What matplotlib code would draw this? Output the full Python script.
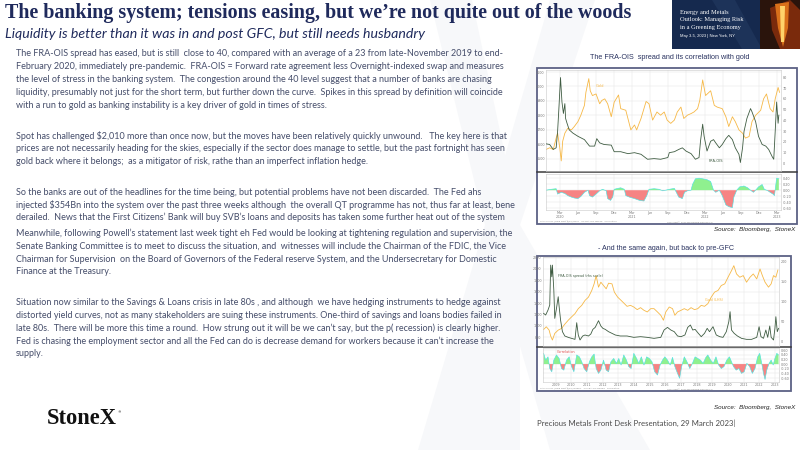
import numpy as np
import matplotlib
matplotlib.use("Agg")
import matplotlib.pyplot as plt
from matplotlib.patches import Rectangle, Polygon

# ---- chart 1: FRA-OIS vs gold, 2020-2023 (decimal years) ----
gold1_t = [2019.98, 2020.03, 2020.08, 2020.12, 2020.14, 2020.17, 2020.19, 2020.21, 2020.24, 2020.28,
           2020.33, 2020.37, 2020.42, 2020.46, 2020.51, 2020.53, 2020.57, 2020.59, 2020.62, 2020.67,
           2020.72, 2020.75, 2020.79, 2020.83, 2020.88, 2020.92, 2020.98, 2021.01, 2021.08, 2021.15,
           2021.20, 2021.23, 2021.29, 2021.36, 2021.40, 2021.45, 2021.51, 2021.56, 2021.61, 2021.65,
           2021.70, 2021.75, 2021.79, 2021.84, 2021.88, 2021.93, 2021.98, 2022.02, 2022.07, 2022.10,
           2022.14, 2022.18, 2022.25, 2022.30, 2022.34, 2022.41, 2022.46, 2022.50, 2022.55, 2022.59,
           2022.64, 2022.69, 2022.73, 2022.78, 2022.82, 2022.87, 2022.94, 2022.98, 2023.02, 2023.07,
           2023.11, 2023.14, 2023.18, 2023.20]
gold1 = [1563, 1575, 1563, 1642, 1676, 1575, 1484, 1620, 1676, 1710,
         1699, 1722, 1756, 1800, 1869, 1959, 2054, 1970, 1937, 1948,
         1880, 1903, 1914, 1880, 1790, 1891, 1941, 1846, 1835, 1699,
         1733, 1699, 1778, 1896, 1880, 1767, 1823, 1801, 1823, 1767,
         1744, 1767, 1823, 1857, 1778, 1801, 1812, 1823, 1846, 1903,
         2045, 1937, 1970, 1869, 1857, 1846, 1790, 1722, 1790, 1756,
         1699, 1676, 1642, 1653, 1756, 1800, 1835, 1914, 1948, 1846,
         1823, 1914, 1993, 1959]

fra1_t = [2019.98, 2020.03, 2020.08, 2020.12, 2020.14, 2020.16, 2020.18, 2020.20, 2020.22, 2020.24,
          2020.25, 2020.27, 2020.30, 2020.35, 2020.42, 2020.51, 2020.58, 2020.65, 2020.68, 2020.72,
          2020.78, 2020.88, 2020.92, 2021.01, 2021.11, 2021.20, 2021.29, 2021.38, 2021.47, 2021.56,
          2021.66, 2021.68, 2021.75, 2021.81, 2021.86, 2021.91, 2021.98, 2022.04, 2022.09, 2022.11,
          2022.14, 2022.16, 2022.20, 2022.25, 2022.29, 2022.32, 2022.37, 2022.41, 2022.46, 2022.50,
          2022.55, 2022.59, 2022.64, 2022.66, 2022.69, 2022.71, 2022.75, 2022.80, 2022.82, 2022.87,
          2022.91, 2022.96, 2023.01, 2023.05, 2023.10, 2023.12, 2023.14, 2023.16, 2023.18, 2023.19]
fra1 = [18.2, 17.6, 13.0, 14.5, 29.7, 53.9, 79.7, 57.0, 46.4, 55.5,
        41.8, 37.3, 31.2, 28.2, 25.2, 22.1, 16.1, 16.1, 23.0, 19.1,
        17.6, 17.0, 10.9, 10.9, 9.1, 10.0, 8.5, 3.9, 4.5, 3.9,
        5.5, 10.0, 10.9, 13.0, 14.5, 11.5, 9.1, 3.9, 5.5, 20.6,
        36.4, 25.2, 11.5, 20.6, 22.1, 19.1, 14.5, 17.6, 23.0, 26.1,
        22.1, 14.5, 8.5, 0.9, 14.5, 29.7, 41.8, 50.9, 47.9, 38.8,
        25.2, 17.6, 16.1, 13.0, 6.1, 3.9, 29.7, 57.0, 37.3, 44.8]

corr1_t = [2019.98, 2020.05, 2020.12, 2020.14, 2020.19, 2020.24, 2020.28, 2020.33, 2020.37, 2020.42,
           2020.46, 2020.51, 2020.56, 2020.58, 2020.62, 2020.67, 2020.72, 2020.76, 2020.81, 2020.83,
           2020.87, 2020.90, 2020.92, 2020.97, 2021.01, 2021.06, 2021.08, 2021.13, 2021.20, 2021.27,
           2021.33, 2021.37, 2021.40, 2021.47, 2021.54, 2021.59, 2021.63, 2021.68, 2021.75, 2021.81,
           2021.86, 2021.89, 2021.93, 2021.98, 2022.00, 2022.04, 2022.09, 2022.14, 2022.20, 2022.25,
           2022.29, 2022.32, 2022.37, 2022.41, 2022.46, 2022.50, 2022.55, 2022.57, 2022.61, 2022.65,
           2022.71, 2022.76, 2022.80, 2022.84, 2022.87, 2022.91, 2022.96, 2022.99, 2023.04, 2023.07,
           2023.11, 2023.13, 2023.16, 2023.19]
corr1 = [0.00, 0.03, 0.05, -0.13, -0.07, -0.11, -0.18, -0.23, -0.26, -0.28,
         -0.21, -0.07, 0.00, -0.18, -0.23, -0.13, -0.02, 0.03, -0.02, -0.28,
         -0.34, -0.23, 0.03, 0.06, 0.08, 0.03, -0.18, -0.23, -0.28, -0.34,
         -0.36, -0.18, 0.03, 0.05, 0.03, -0.02, 0.00, 0.03, 0.06, -0.23,
         -0.28, -0.07, -0.02, 0.00, 0.19, 0.38, 0.40, 0.38, 0.35, 0.29,
         0.00, -0.07, 0.00, -0.18, -0.49, -0.55, -0.58, -0.23, 0.00, 0.11,
         0.14, 0.08, 0.00, -0.07, 0.00, 0.11, 0.19, 0.03, -0.02, -0.07,
         -0.13, -0.18, 0.40, 0.38]

quarter_ticks = [2020.167, 2020.417, 2020.667, 2020.917, 2021.167, 2021.417, 2021.667,
                 2021.917, 2022.167, 2022.417, 2022.667, 2022.917, 2023.167]
quarter_labels = ["Mar\n2020", "Jun", "Sep", "Dec", "Mar\n2021", "Jun", "Sep",
                  "Dec", "Mar\n2022", "Jun", "Sep", "Dec", "Mar\n2023"]

# ---- chart 2: same again, back to 2008 ----
gold2_t = [2008.24, 2008.41, 2008.59, 2008.69, 2008.80, 2008.95, 2009.17, 2009.38, 2009.59, 2009.81,
           2010.02, 2010.24, 2010.45, 2010.67, 2010.88, 2011.10, 2011.31, 2011.46, 2011.59, 2011.74,
           2011.89, 2012.06, 2012.23, 2012.38, 2012.60, 2012.75, 2012.96, 2013.18, 2013.35, 2013.56,
           2013.78, 2013.99, 2014.21, 2014.42, 2014.64, 2014.85, 2015.07, 2015.28, 2015.50, 2015.71,
           2015.88, 2016.03, 2016.25, 2016.46, 2016.61, 2016.78, 2017.00, 2017.21, 2017.43, 2017.64,
           2017.86, 2018.07, 2018.29, 2018.50, 2018.71, 2018.93, 2019.14, 2019.36, 2019.57, 2019.79,
           2020.00, 2020.22, 2020.37, 2020.54, 2020.75, 2020.97, 2021.18, 2021.40, 2021.61, 2021.83,
           2022.04, 2022.19, 2022.36, 2022.58, 2022.75, 2022.90, 2023.05, 2023.18]
gold2 = [939, 986, 928, 823, 754, 870, 928, 957, 1032, 1101,
         1159, 1217, 1304, 1362, 1449, 1507, 1623, 1739, 1884, 1681,
         1768, 1710, 1652, 1751, 1739, 1594, 1507, 1449, 1403, 1345,
         1362, 1333, 1287, 1322, 1275, 1246, 1304, 1304, 1246, 1188,
         1101, 1246, 1333, 1304, 1188, 1246, 1275, 1304, 1275, 1322,
         1287, 1304, 1362, 1345, 1391, 1507, 1594, 1623, 1710, 1739,
         1855, 1971, 2058, 1913, 1855, 1884, 1768, 1855, 1913, 1826,
         2000, 1884, 1768, 1681, 1739, 1884, 1855, 1983]

fra2_t = [2008.24, 2008.37, 2008.52, 2008.63, 2008.69, 2008.76, 2008.80, 2008.89, 2008.95, 2009.06,
          2009.17, 2009.23, 2009.32, 2009.44, 2009.59, 2009.81, 2010.02, 2010.24, 2010.35, 2010.45,
          2010.56, 2010.73, 2010.88, 2011.10, 2011.25, 2011.38, 2011.53, 2011.74, 2011.89, 2012.02,
          2012.17, 2012.38, 2012.60, 2012.81, 2013.13, 2013.56, 2013.99, 2014.42, 2014.85, 2015.28,
          2015.71, 2015.92, 2016.14, 2016.35, 2016.57, 2016.78, 2017.00, 2017.25, 2017.43, 2017.60,
          2017.75, 2017.90, 2018.07, 2018.29, 2018.50, 2018.67, 2018.82, 2019.04, 2019.25, 2019.47,
          2019.68, 2019.89, 2020.05, 2020.13, 2020.22, 2020.39, 2020.60, 2020.86, 2021.18, 2021.50,
          2021.83, 2021.98, 2022.10, 2022.26, 2022.41, 2022.53, 2022.66, 2022.75, 2022.90, 2022.99,
          2023.05, 2023.14, 2023.22]
fra2 = [70.8, 66.7, 79.2, 91.7, 191.7, 162.5, 191.7, 129.2, 58.3, 83.3,
        112.5, 87.5, 54.2, 25.0, 14.2, 10.8, 8.3, 5.8, 47.5, 16.7,
        4.2, 14.2, 16.7, 14.2, 19.2, 30.8, 35.8, 52.5, 39.2, 33.3,
        30.8, 25.0, 20.8, 16.7, 14.2, 14.2, 10.8, 12.5, 10.8, 8.3,
        10.8, 29.2, 35.8, 29.2, 25.0, 14.2, 12.5, 16.7, 35.8, 41.7,
        29.2, 30.8, 22.5, 12.5, 20.8, 33.3, 25.0, 37.5, 16.7, 12.5,
        10.8, 25.0, 50.0, 75.0, 29.2, 20.8, 14.2, 8.3, 5.8, 5.8,
        10.8, 37.5, 12.5, 8.3, 29.2, 10.8, 39.2, 10.8, 4.2, 33.3,
        62.5, 25.0, 33.3]

corr2_t = [2008.24, 2008.37, 2008.52, 2008.63, 2008.76, 2008.89, 2009.06, 2009.23, 2009.38, 2009.53,
           2009.70, 2009.87, 2010.02, 2010.17, 2010.35, 2010.52, 2010.67, 2010.82, 2010.99, 2011.16,
           2011.31, 2011.46, 2011.59, 2011.74, 2011.89, 2012.06, 2012.23, 2012.38, 2012.53, 2012.71,
           2012.88, 2013.03, 2013.18, 2013.35, 2013.52, 2013.67, 2013.82, 2013.99, 2014.17, 2014.31,
           2014.47, 2014.64, 2014.81, 2014.98, 2015.15, 2015.32, 2015.50, 2015.67, 2015.82, 2015.97,
           2016.14, 2016.31, 2016.46, 2016.61, 2016.78, 2016.91, 2017.04, 2017.21, 2017.38, 2017.56,
           2017.73, 2017.90, 2018.07, 2018.24, 2018.41, 2018.59, 2018.71, 2018.89, 2019.06, 2019.23,
           2019.40, 2019.57, 2019.74, 2019.92, 2020.09, 2020.22, 2020.35, 2020.52, 2020.69, 2020.86,
           2021.03, 2021.20, 2021.38, 2021.55, 2021.72, 2021.89, 2022.02, 2022.15, 2022.26, 2022.36,
           2022.47, 2022.62, 2022.75, 2022.88, 2022.99, 2023.11, 2023.22]
corr2 = [0.46, 0.17, 0.31, -0.19, -0.33, 0.17, 0.39, 0.24, -0.19, -0.26,
         0.17, 0.31, -0.11, -0.33, 0.39, 0.31, 0.10, -0.19, -0.33, 0.10,
         0.31, 0.43, -0.19, -0.40, -0.26, 0.17, -0.26, -0.33, 0.10, 0.24,
         0.03, 0.24, -0.04, 0.39, 0.17, -0.11, -0.19, 0.46, 0.24, 0.03,
         0.31, -0.04, 0.31, 0.24, 0.10, -0.33, -0.47, -0.04, 0.17, 0.31,
         0.17, -0.04, 0.29, -0.11, -0.40, -0.61, -0.11, 0.31, 0.10, -0.19,
         0.03, 0.31, 0.24, 0.17, 0.03, 0.29, 0.39, 0.17, 0.03, 0.31,
         -0.04, -0.19, -0.11, 0.17, 0.31, 0.10, -0.11, -0.26, -0.19, -0.40,
         -0.33, 0.03, -0.11, -0.40, -0.19, 0.31, 0.46, 0.03, -0.40, -0.66,
         -0.26, 0.03, 0.17, -0.04, 0.24, 0.46, 0.39]

year_ticks = list(range(2009, 2024))
year_labels = [str(y) for y in year_ticks]

# ---- slide text ----
title = "The banking system; tensions easing, but we\u2019re not quite out of the woods"
subtitle = "Liquidity is better than it was in and post GFC, but still needs husbandry"
body_lines = [
    (53.5, "The FRA-OIS spread has eased, but is still  close to 40, compared with an average of a 23 from late-November 2019 to end-"),
    (66.5, "February 2020, immediately pre-pandemic.  FRA-OIS = Forward rate agreement less Overnight-indexed swap and measures"),
    (79.5, "the level of stress in the banking system.  The congestion around the 40 level suggest that a number of banks are chasing"),
    (92.5, "liquidity, presumably not just for the short term, but further down the curve.  Spikes in this spread by definition will coincide"),
    (105.5, "with a run to gold as banking instability is a key driver of gold in times of stress."),
    (135.7, "Spot has challenged $2,010 more than once now, but the moves have been relatively quickly unwound.   The key here is that"),
    (148.7, "prices are not necessarily heading for the skies, especially if the sector does manage to settle, but the past fortnight has seen"),
    (161.7, "gold back where it belongs;  as a mitigator of risk, rathe than an imperfect inflation hedge."),
    (192.3, "So the banks are out of the headlines for the time being, but potential problems have not been discarded.  The Fed ahs"),
    (205.3, "injected $354Bn into the system over the past three weeks although  the overall QT programme has not, thus far at least, bene"),
    (217.7, "derailed.  News that the First Citizens\u2019 Bank will buy SVB\u2019s loans and deposits has taken some further heat out of the system"),
    (233.3, "Meanwhile, following Powell\u2019s statement last week tight eh Fed would be looking at tightening regulation and supervision, the"),
    (246.3, "Senate Banking Committee is to meet to discuss the situation, and  witnesses will include the Chairman of the FDIC, the Vice"),
    (259.3, "Chairman for Supervision  on the Board of Governors of the Federal reserve System, and the Undersecretary for Domestic"),
    (272.0, "Finance at the Treasury."),
    (302.7, "Situation now similar to the Savings & Loans crisis in late 80s , and although  we have hedging instruments to hedge against"),
    (315.3, "distorted yield curves, not as many stakeholders are suing these instruments. One-third of savings and loans bodies failed in"),
    (328.3, "late 80s.  There will be more this time a round.  How strung out it will be we can\u2019t say, but the p( recession) is clearly higher."),
    (341.3, "Fed is chasing the employment sector and all the Fed can do is decrease demand for workers because it can\u2019t increase the"),
    (354.0, "supply."),
]

W, H = 800, 450
NAVY = "#1f2a5c"
BODY = "#454d6a"
GOLD_C = "#f6b846"
FRA_C = "#3f5c42"

fig = plt.figure(figsize=(8, 4.5), dpi=100)
bg = fig.add_axes([0, 0, 1, 1])
bg.set_xlim(0, W)
bg.set_ylim(H, 0)
bg.axis("off")
renderer = fig.canvas.get_renderer()


def fit(t, width):
    w = t.get_window_extent(renderer).width
    t.set_fontsize(t.get_fontsize() * width / w)
    return t.get_fontsize()


def px_axes(x0, y0, x1, y1):
    return fig.add_axes([x0 / W, 1 - y1 / H, (x1 - x0) / W, (y1 - y0) / H])


# faint background X watermark
wm = "#f7f8fa"
bg.add_patch(Polygon([(430, 0), (472, 0), (520, 225), (650, 450), (550, 450), (485, 225)],
                     closed=True, color=wm, lw=0))
bg.add_patch(Polygon([(595, 0), (550, 0), (485, 225), (418, 450), (520, 450), (520, 225)],
                     closed=True, color=wm, lw=0))

# header banner (top right)
bg.add_patch(Rectangle((672, 0), 128, 49, color="#15294e", lw=0))
bg.add_patch(Polygon([(712, 0), (735, 0), (762, 49), (742, 49)], closed=True, color="#1d3359", lw=0))
bg.add_patch(Rectangle((760, 0), 40, 49, color="#2a140c", lw=0))
bg.add_patch(Polygon([(770, 8), (790, 0), (800, 10), (800, 49), (780, 49), (772, 30)], closed=True,
                     color="#7a2a0c", lw=0))
bg.add_patch(Polygon([(775, 4), (789, 2), (788, 28), (783, 47), (778, 28)], closed=True, color="#d9701a", lw=0))
bg.add_patch(Polygon([(780, 6), (785, 6), (784, 42), (781, 42)], closed=True, color="#ffd36a", lw=0))
for yy, s in [(12.5, "Energy and Metals"), (20.0, "Outlook: Managing Risk"), (27.5, "in a Greening Economy")]:
    bg.text(680, yy, s, family="Liberation Serif", color="white", fontsize=4.6, va="center")
bg.text(680, 35.5, "May 3-5, 2023 | New York, NY", family="Liberation Sans", color="white",
        fontsize=3.0, va="center")

# title + subtitle
t = bg.text(5, 13, title, family="Liberation Serif", weight="bold", color=NAVY, fontsize=14, va="center")
fit(t, 630)
t = bg.text(5, 33.5, subtitle, family="Lato", style="italic", color=NAVY, fontsize=10, va="center")
fit(t, 421)

# body text
body = [bg.text(16, y, s, family="Lato", color=BODY, fontsize=7, va="center", parse_math=False)
        for y, s in body_lines]
fs = fit(body[0], 491)
for b in body[1:]:
    b.set_fontsize(fs)

# StoneX logo
t = bg.text(47, 418, "StoneX", family="Liberation Serif", weight="bold", color="#111111", fontsize=12, va="center")
fit(t, 70)
bg.text(118, 412.5, "\u00ae", family="DejaVu Sans", color="#111111", fontsize=2.5, va="center")

# chart captions
t = bg.text(670, 57.3, "The FRA-OIS  spread and its correlation with gold", family="Liberation Sans",
            color="#2a3360", fontsize=6, ha="center", va="center")
fit(t, 162)
t = bg.text(666, 248.3, "- And the same again, but back to pre-GFC", family="Liberation Sans",
            color="#2a3360", fontsize=6, ha="center", va="center")
fit(t, 138)
for yy in (230, 408):
    t = bg.text(795, yy, "Source:  Bloomberg,  StoneX", family="Liberation Sans", style="italic",
                color="#222222", fontsize=6, ha="right", va="center")
    fit(t, 82)
t = bg.text(537, 423.3, "Precious Metals Front Desk Presentation, 29 March 2023|", family="Lato",
            color="#4a4a4a", fontsize=7, va="center")
fit(t, 198)

# chart frames + panel separators
bg.add_patch(Rectangle((537, 67.7), 260, 156.3, facecolor="white", edgecolor="#5c6185", lw=1.3))
bg.add_patch(Rectangle((537, 255.7), 254, 135.3, facecolor="white", edgecolor="#5c6185", lw=1.3))
bg.plot([537, 797], [172.3, 172.3], color="#3a3a3a", lw=1.1)
bg.plot([537, 791], [346.7, 346.7], color="#3a3a3a", lw=1.1)

TICK_KW = dict(length=0, pad=1.0, labelsize=2.4, labelcolor="#7a7a7a")


def style(ax):
    ax.set_facecolor("white")
    for sp in ax.spines.values():
        sp.set_color("#c8c8c8")
        sp.set_linewidth(0.4)
    ax.tick_params(axis="both", **TICK_KW)
    ax.grid(True, color="#e4e4e4", lw=0.35)
    ax.set_axisbelow(True)


def corr_panel(ax, tt, cc, xlim, yticks):
    style(ax)
    tt = np.array(tt)
    cc = np.array(cc)
    ax.fill_between(tt, cc, 0, where=cc >= 0, interpolate=True, color="#8ff08f", lw=0)
    ax.fill_between(tt, cc, 0, where=cc < 0, interpolate=True, color="#f68484", lw=0)
    ax.plot(tt, cc, color="#52e2e2", lw=0.45)
    ax.set_xlim(*xlim)
    ax.yaxis.tick_right()
    ax.set_yticks(yticks)
    ax.set_yticklabels(["%.2f" % v for v in yticks])


# ---- chart 1 ----
xl1 = (2019.98, 2023.22)
a1 = px_axes(546, 70, 781, 171)
style(a1)
a1.plot(gold1_t, gold1, color=GOLD_C, lw=0.6)
a1.set_xlim(*xl1)
a1.set_ylim(1414, 2114)
a1.set_yticks(range(1500, 2101, 100))
a1.set_xticks(quarter_ticks)
a1.set_xticklabels([])
a1r = a1.twinx()
a1r.plot(fra1_t, fra1, color=FRA_C, lw=0.6)
a1r.set_ylim(-7, 86.7)
a1r.set_yticks(range(0, 81, 10))
a1r.tick_params(axis="both", **TICK_KW)
for sp in a1r.spines.values():
    sp.set_visible(False)
a1.text(0.213, 0.835, "Gold", transform=a1.transAxes, color=GOLD_C, fontsize=2.6)
a1.text(0.69, 0.09, "FRA-OIS", transform=a1.transAxes, color=FRA_C, fontsize=2.6)

c1 = px_axes(546, 174, 781, 210)
corr_panel(c1, corr1_t, corr1, xl1, [-0.6, -0.4, -0.2, 0.0, 0.2, 0.4])
c1.set_ylim(-0.66, 0.54)
c1.set_xticks(quarter_ticks)
c1.set_xticklabels(quarter_labels, linespacing=0.9)
bg.text(540, 222.3, "XAU Curncy (Gold Spot $/Oz) Daily   US FRA-OIS spread   Correlation",
        fontsize=1.6, color="#8a8a8a", va="center", parse_math=False)
bg.text(690, 222.3, "Copyright\u00a9 2023 Bloomberg Finance L.P.", fontsize=1.6, color="#8a8a8a",
        va="center", ha="center")

# ---- chart 2 ----
xl2 = (2008.2, 2023.25)
a2 = px_axes(543, 257, 779, 345.5)
style(a2)
a2.plot(gold2_t, gold2, color=GOLD_C, lw=0.6)
a2.set_xlim(*xl2)
a2.set_ylim(658, 2210)
a2.set_yticks(range(800, 2201, 200))
a2.set_xticks(year_ticks)
a2.set_xticklabels([])
a2r = a2.twinx()
a2r.plot(fra2_t, fra2, color=FRA_C, lw=0.6)
a2r.set_ylim(-9.6, 212)
a2r.set_yticks(range(0, 201, 50))
a2r.tick_params(axis="both", **TICK_KW)
for sp in a2r.spines.values():
    sp.set_visible(False)
a2.text(0.064, 0.77, "FRA-OIS spread (rhs scale)", transform=a2.transAxes, color=FRA_C, fontsize=2.4)
a2.text(0.686, 0.50, "Gold (LHS)", transform=a2.transAxes, color=GOLD_C, fontsize=2.4)

c2 = px_axes(543, 348, 779, 382)
corr_panel(c2, corr2_t, corr2, xl2, [-0.6, -0.4, -0.2, 0.0, 0.2, 0.4, 0.6])
c2.set_ylim(-0.77, 0.69)
c2.set_xticks(year_ticks)
c2.set_xticklabels(year_labels)
c2.text(0.06, 0.86, "Correlation", transform=c2.transAxes, color="#e05050", fontsize=2.4)
bg.text(540, 389.3, "XAU Curncy (Gold Spot $/Oz) Weekly   US FRA-OIS spread   Correlation",
        fontsize=1.6, color="#8a8a8a", va="center", parse_math=False)
bg.text(690, 389.3, "Copyright\u00a9 2023 Bloomberg Finance L.P.", fontsize=1.6, color="#8a8a8a",
        va="center", ha="center")

fig.savefig("out.png", dpi=100, facecolor="white")
